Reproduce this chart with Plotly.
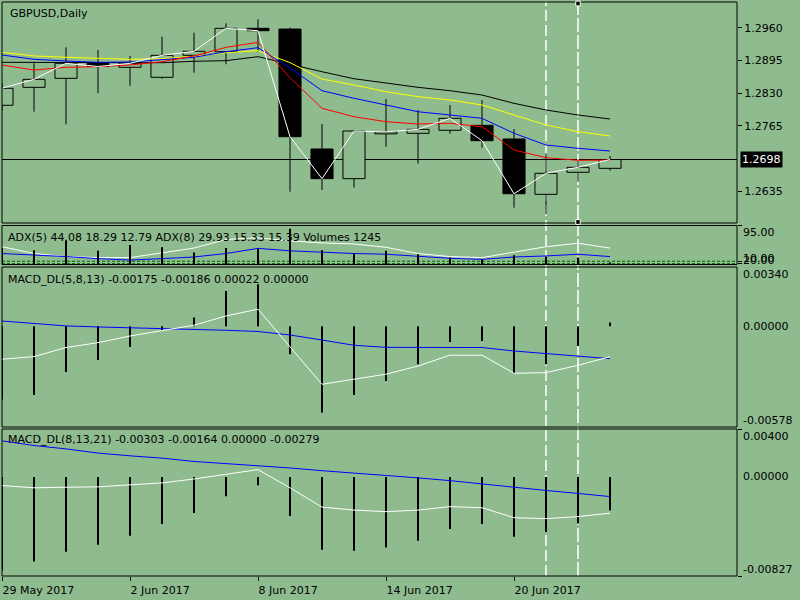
import plotly.graph_objects as go

# daily bars, GBPUSD
dates = ['2017-05-29', '2017-05-30', '2017-05-31', '2017-06-01', '2017-06-02',
         '2017-06-05', '2017-06-06', '2017-06-07', '2017-06-08', '2017-06-09',
         '2017-06-12', '2017-06-13', '2017-06-14', '2017-06-15', '2017-06-16',
         '2017-06-19', '2017-06-20', '2017-06-21', '2017-06-22', '2017-06-23']
tick_dates = ['2017-05-29', '2017-06-02', '2017-06-08', '2017-06-14', '2017-06-20']
tick_labels = ['29 May 2017', '2 Jun 2017', '8 Jun 2017', '14 Jun 2017', '20 Jun 2017']

open_ = [1.28058, 1.28415, 1.28594, 1.28888, 1.28813, 1.28614, 1.29051, 1.29123, 1.29588, 1.29574,
         1.27189, 1.26599, 1.27490, 1.27501, 1.27561, 1.27660, 1.27388, 1.26288, 1.26726, 1.26805]
high = [1.28500, 1.28892, 1.29210, 1.29157, 1.29037, 1.29421, 1.29501, 1.29687, 1.29767, 1.29600,
        1.27686, 1.27555, 1.28183, 1.27964, 1.28063, 1.28163, 1.27586, 1.27103, 1.26956, 1.27050]
low = [1.27950, 1.27930, 1.27680, 1.28296, 1.28447, 1.28586, 1.28706, 1.28873, 1.29123, 1.26340,
       1.26374, 1.26420, 1.27235, 1.26897, 1.27493, 1.27215, 1.26022, 1.25891, 1.26539, 1.26758]
close = [1.28396, 1.28574, 1.28892, 1.28829, 1.28892, 1.29051, 1.29131, 1.29588, 1.29540, 1.27433,
         1.26599, 1.27547, 1.27530, 1.27580, 1.27799, 1.27354, 1.26300, 1.26706, 1.26825, 1.26980]

ma_black = [1.28912, 1.28912, 1.28912, 1.28912, 1.28912, 1.28904, 1.28932, 1.28945, 1.29024, 1.28871,
            1.28725, 1.28586, 1.28495, 1.28415, 1.28348, 1.28262, 1.28097, 1.27964, 1.27865, 1.27785]
ma_yellow = [1.29111, 1.29038, 1.29012, 1.28992, 1.28972, 1.28984, 1.29032, 1.29103, 1.29143, 1.28906,
             1.28580, 1.28461, 1.28328, 1.28229, 1.28163, 1.28064, 1.27865, 1.27666, 1.27533, 1.27447]
ma_blue = [1.29057, 1.28972, 1.28938, 1.28912, 1.28918, 1.28958, 1.29012, 1.29123, 1.29203, 1.28801,
           1.28348, 1.28197, 1.28064, 1.27930, 1.27865, 1.27799, 1.27501, 1.27268, 1.27203, 1.27149]
ma_red = [1.28859, 1.28759, 1.28813, 1.28825, 1.28859, 1.28924, 1.29038, 1.29210, 1.29310, 1.28606,
          1.27998, 1.27831, 1.27732, 1.27686, 1.27700, 1.27632, 1.27169, 1.27016, 1.26964, 1.26970]
price_ticks = [1.2960, 1.2895, 1.2830, 1.2765, 1.2635]
last_price = 1.2698

# ADX + volumes window
adx_main = [43.3, 26.8, 19.3, 16.8, 16.8, 29.3, 40.0, 61.0, 65.0, 57.5,
            52.5, 50.0, 41.8, 26.8, 19.3, 16.8, 30.8, 43.3, 51.8, 40.0]
adx_plus = [26.8, 23.3, 19.3, 14.3, 10.8, 14.3, 18.3, 26.8, 39.3, 33.3,
            29.3, 26.8, 25.0, 19.3, 15.0, 12.5, 18.3, 20.8, 25.0, 19.3]
adx_levels = [8, 2]
volumes = [20000, 17500, 29100, 16600, 23750, 20900, 14600, 20000, 19600, 43400,
           17500, 13400, 16600, 12500, 8400, 6250, 11250, 9600, 8400, 1245]

# MACD_DL(5,8,13)
m1_hist = [-0.00420, -0.00394, -0.00262, -0.00193, -0.00119, -0.00027, 0.00050, 0.00203, 0.00241, -0.00161,
           -0.00495, -0.00394, -0.00314, -0.00218, -0.00090, -0.00084, -0.00270, -0.00218, -0.00113, 0.00022]
m1_white = [-0.00189, -0.00174, -0.00122, -0.00094, -0.00056, -0.00023, 0.00006, 0.00059, 0.00098, -0.00118,
            -0.00333, -0.00304, -0.00275, -0.00228, -0.00166, -0.00166, -0.00270, -0.00266, -0.00224, -0.00175]
m1_blue = [0.00030, 0.00016, 0.00002, -0.00004, -0.00008, -0.00012, -0.00017, -0.00023, -0.00030, -0.00050,
           -0.00079, -0.00109, -0.00121, -0.00122, -0.00122, -0.00122, -0.00142, -0.00157, -0.00168, -0.00186]
m1_ticks = [0.00340, 0.0, -0.00578]

# MACD_DL(8,13,21)
m2_hist = [-0.00780, -0.00707, -0.00624, -0.00567, -0.00492, -0.00393, -0.00301, -0.00161, -0.00070, -0.00326,
           -0.00608, -0.00616, -0.00590, -0.00533, -0.00434, -0.00393, -0.00500, -0.00459, -0.00389, -0.00279]
m2_white = [-0.00072, -0.00091, -0.00086, -0.00083, -0.00066, -0.00050, -0.00017, 0.00025, 0.00061, -0.00091,
            -0.00252, -0.00277, -0.00290, -0.00277, -0.00248, -0.00257, -0.00340, -0.00348, -0.00331, -0.00303]
m2_blue = [0.00301, 0.00262, 0.00234, 0.00199, 0.00176, 0.00157, 0.00129, 0.00113, 0.00094, 0.00075,
           0.00052, 0.00033, 0.00011, -0.00008, -0.00031, -0.00058, -0.00091, -0.00113, -0.00138, -0.00164]
m2_ticks = [0.00400, 0.0, -0.00827]

BG = '#8FBC8F'
FONT = dict(family='DejaVu Sans', size=11, color='black')


def py(px):
    return 1 - px / 600


P1 = [py(223), py(2)]
P2 = [py(264.5), py(225.5)]
P3 = [py(427), py(267)]
P4 = [py(576), py(429)]
XD = [2 / 800, 737 / 800]

fig = go.Figure()

# candle bodies
up = [i for i in range(len(dates)) if close[i] >= open_[i]]
dn = [i for i in range(len(dates)) if close[i] < open_[i]]
fig.add_trace(go.Bar(x=[dates[i] for i in up], y=[close[i] - open_[i] for i in up],
                     base=[open_[i] for i in up], width=0.69,
                     marker=dict(color=BG, line=dict(color='black', width=1))))
fig.add_trace(go.Bar(x=[dates[i] for i in dn], y=[open_[i] - close[i] for i in dn],
                     base=[close[i] for i in dn], width=0.69,
                     marker=dict(color='black', line=dict(color='black', width=1))))

# wicks
wx, wy = [], []
for d, o, h, l, c in zip(dates, open_, high, low, close):
    wx += [d, d, None, d, d, None]
    wy += [h, max(o, c), None, min(o, c), l, None]
fig.add_trace(go.Scatter(x=wx, y=wy, mode='lines', line=dict(color='black', width=1)))

for vals, col in [(ma_black, 'black'), (ma_yellow, '#FFFF00'), (ma_blue, '#0000FF'),
                  (ma_red, '#FF0000'), (close, 'white')]:
    fig.add_trace(go.Scatter(x=dates, y=vals, mode='lines', line=dict(color=col, width=1)))

# ADX window
fig.add_trace(go.Bar(x=dates, y=volumes, width=0.05, marker=dict(color='black', line_width=0),
                     xaxis='x', yaxis='y5'))
fig.add_trace(go.Scatter(x=dates, y=adx_main, mode='lines', line=dict(color='white', width=1),
                         xaxis='x', yaxis='y2'))
fig.add_trace(go.Scatter(x=dates, y=adx_plus, mode='lines', line=dict(color='#0000FF', width=1),
                         xaxis='x', yaxis='y2'))

# MACD windows
fig.add_trace(go.Bar(x=dates, y=m1_hist, width=0.05, marker=dict(color='black', line_width=0),
                     xaxis='x', yaxis='y3'))
fig.add_trace(go.Scatter(x=dates, y=m1_blue, mode='lines', line=dict(color='#0000FF', width=1),
                         xaxis='x', yaxis='y3'))
fig.add_trace(go.Scatter(x=dates, y=m1_white, mode='lines', line=dict(color='white', width=1),
                         xaxis='x', yaxis='y3'))
fig.add_trace(go.Bar(x=dates, y=m2_hist, width=0.05, marker=dict(color='black', line_width=0),
                     xaxis='x', yaxis='y4'))
fig.add_trace(go.Scatter(x=dates, y=m2_blue, mode='lines', line=dict(color='#0000FF', width=1),
                         xaxis='x', yaxis='y4'))
fig.add_trace(go.Scatter(x=dates, y=m2_white, mode='lines', line=dict(color='white', width=1),
                         xaxis='x', yaxis='y4'))

shapes = []
for dom in [P1, P2, P3, P4]:
    shapes.append(dict(type='rect', xref='paper', yref='paper', x0=XD[0], x1=XD[1],
                       y0=dom[0], y1=dom[1], line=dict(color='black', width=1), layer='above'))
shapes.append(dict(type='line', xref='paper', yref='y', x0=XD[0], x1=XD[1],
                   y0=last_price, y1=last_price, line=dict(color='black', width=1), layer='below'))
for lv in adx_levels:
    shapes.append(dict(type='line', xref='paper', yref='y2', x0=XD[0], x1=XD[1], y0=lv, y1=lv,
                       line=dict(color='#006400', width=1, dash='3px,2px'), layer='below'))
for d, dash in [(dates[17], '11px,4px'), (dates[18], '14px,3px')]:
    shapes.append(dict(type='line', xref='x', yref='paper', x0=d, x1=d, y0=P4[0], y1=P1[1],
                       line=dict(color='white', width=1.5, dash=dash), layer='below'))
for yy in [py(3.5), py(222)]:
    shapes.append(dict(type='rect', xref='x', yref='paper', x0=18 - 0.07, x1=18 + 0.07,
                       y0=yy - 0.004, y1=yy + 0.004, fillcolor='black',
                       line=dict(color='white', width=1), layer='above'))

ann = [
    dict(text='GBPUSD,Daily', x=8 / 800, y=py(13)),
    dict(text='ADX(5) 44.08 18.29 12.79 ADX(8) 29.93 15.33 15.39 Volumes 1245', x=6 / 800, y=py(237)),
    dict(text='MACD_DL(5,8,13) -0.00175 -0.00186 0.00022 0.00000', x=6 / 800, y=py(279)),
    dict(text='MACD_DL(8,13,21) -0.00303 -0.00164 0.00000 -0.00279', x=6 / 800, y=py(440)),
]
annotations = [dict(a, xref='paper', yref='paper', xanchor='left', yanchor='middle',
                    showarrow=False, font=FONT) for a in ann]

# right scale labels of the indicator windows
RX = 741 / 800
annotations.append(dict(text='95.00', x=RX, y=95, xref='paper', yref='y2', yshift=-7))
annotations.append(dict(text='10.00', x=RX, y=adx_levels[0], xref='paper', yref='y2', yshift=3))
annotations.append(dict(text='20.00', x=RX, y=adx_levels[1], xref='paper', yref='y2', yshift=3))
for ticks, yref in [(m1_ticks, 'y3'), (m2_ticks, 'y4')]:
    for t, sh in zip(ticks, [-7, 0, 7]):
        annotations.append(dict(text='%.5f' % t, x=RX, y=t, xref='paper', yref=yref, yshift=sh))
for a in annotations[4:]:
    a.update(xanchor='left', yanchor='middle', showarrow=False, font=FONT)

annotations.append(dict(text='%.4f' % last_price, x=740 / 800, y=last_price, xref='paper', yref='y',
                        xanchor='left', yanchor='middle', showarrow=False, bgcolor='black',
                        borderpad=1, font=dict(family='DejaVu Sans', size=11, color='white')))

fig.update_layout(
    width=800, height=600,
    margin=dict(l=0, r=0, t=0, b=0),
    paper_bgcolor=BG, plot_bgcolor='rgba(0,0,0,0)',
    showlegend=False, barmode='overlay', hovermode=False,
    font=FONT,
    shapes=shapes, annotations=annotations,
    xaxis=dict(domain=XD, anchor='y4', type='category', range=[0, 735 / 32],
               categoryorder='array', categoryarray=dates,
               tickvals=tick_dates, ticktext=tick_labels, ticks='outside', ticklen=4,
               tickcolor='black', ticklabelposition='outside right', ticklabelstandoff=4,
               showgrid=False, zeroline=False, showline=False, tickfont=FONT),
    yaxis=dict(domain=P1, anchor='x', side='right', range=[1.25718, 1.30111],
               tickvals=price_ticks, ticktext=['%.4f' % t for t in price_ticks],
               ticks='outside', ticklen=4, tickcolor='black',
               showgrid=False, zeroline=False, showline=False, tickfont=FONT),
    yaxis2=dict(domain=P2, anchor='x', side='right', range=[0, 95],
                tickvals=[95] + adx_levels, ticktext=['', '', ''], ticks='outside', ticklen=4,
                tickcolor='black', showgrid=False, zeroline=False, showline=False),
    yaxis5=dict(overlaying='y2', range=[0, 47500], visible=False),
    yaxis3=dict(domain=P3, anchor='x', side='right', range=[-0.00578, 0.00340],
                showticklabels=False, showgrid=False, zeroline=False, showline=False),
    yaxis4=dict(domain=P4, anchor='x', side='right', range=[-0.00827, 0.00400],
                tickvals=[m2_ticks[0], m2_ticks[2]], ticktext=['', ''], ticks='outside', ticklen=4,
                tickcolor='black', showgrid=False, zeroline=False, showline=False),
)

# page body has a default margin; drop it so the 800x600 figure fills the window
fig.write_html('out.html', config={'displayModeBar': False},
               post_script="document.body.style.margin='0';")
